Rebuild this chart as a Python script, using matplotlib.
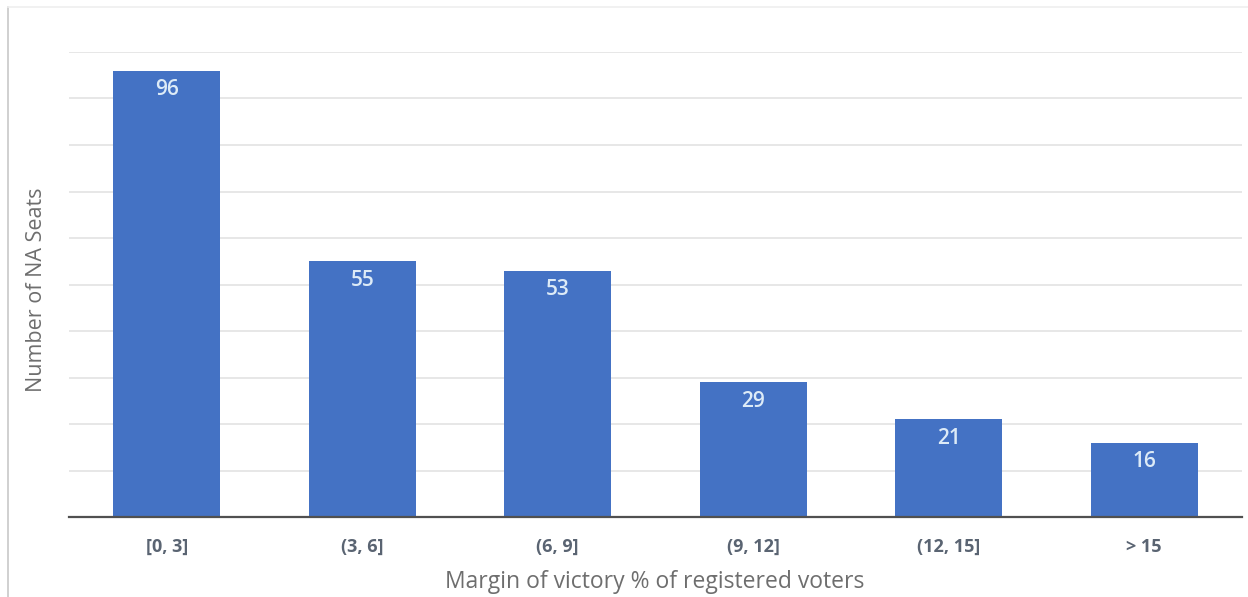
import matplotlib
matplotlib.use("Agg")
import matplotlib.pyplot as plt
from matplotlib.lines import Line2D

categories = ["[0, 3]", "(3, 6]", "(6, 9]", "(9, 12]", "(12, 15]", "> 15"]
seats = [96, 55, 53, 29, 21, 16]

plt.rcParams['font.family'] = ['Open Sans', 'DejaVu Sans']

fig = plt.figure(figsize=(12.48, 5.97), dpi=100)
ax = fig.add_axes([69/1248, 1-517/597, (1242-69)/1248, (517-52)/597])

x = list(range(len(categories)))
bars = ax.bar(x, seats, width=0.547, color="#4472C4", zorder=3)
for xi, v in zip(x, seats):
    ax.text(xi, v - 1.8, str(v), ha="center", va="top", color="#DDEBF7",
            fontsize=15, fontweight="semibold", zorder=4)

ax.set_xlim(-0.5, len(categories) - 0.5)
ax.set_ylim(0, 100)
ax.set_yticks(range(0, 101, 10))
ax.set_yticklabels([])
ax.tick_params(axis="y", length=0)
ax.grid(axis="y", color="#E3E3E3", linewidth=1.2, zorder=0)
ax.set_xticks(x)
ax.set_xticklabels(categories, fontsize=13, color="#5A6472", fontweight="bold")
ax.tick_params(axis="x", length=0, pad=15)
for s in ["top", "right", "left"]:
    ax.spines[s].set_visible(False)
ax.spines["bottom"].set_color("#505050")
ax.spines["bottom"].set_linewidth(1.6)
ax.spines["bottom"].set_zorder(5)

fig.text(655/1248, 1-582/597, "Margin of victory % of registered voters", ha="center", va="center",
         fontsize=16.5, color="#6E6E6E")
fig.text(37/1248, 1-290/597, "Number of NA Seats", rotation=90, ha="center", va="center",
         fontsize=15.5, color="#6E6E6E")

# light frame at the left and top of the picture
fig.add_artist(Line2D([8/1248, 8/1248], [0, 1-7/597], transform=fig.transFigure, color="#C8C8C8", linewidth=1.2))
fig.add_artist(Line2D([8/1248, 1], [1-7/597, 1-7/597], transform=fig.transFigure, color="#EFEFEF", linewidth=1.2))

fig.savefig("out.png", dpi=100)
